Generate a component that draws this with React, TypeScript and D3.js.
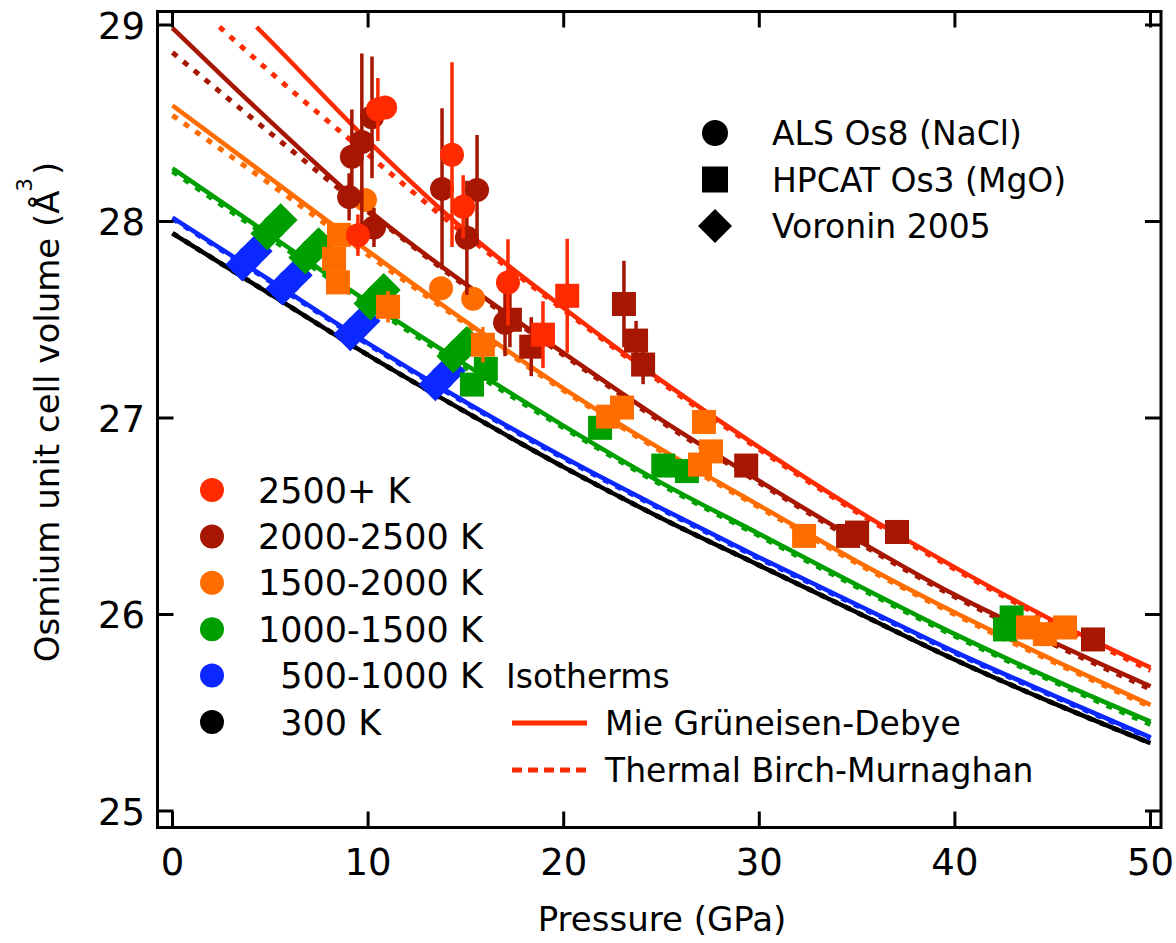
import React from "react";
import * as d3 from "d3";

// ---------- data ----------
const xTicks = [0, 10, 20, 30, 40, 50];
const yTicks = [25, 26, 27, 28, 29];

const pGrid = [0, 5, 10, 15, 20, 25, 30, 35, 40, 45, 50];
// Isotherms, Mie Grüneisen-Debye (solid) and thermal Birch-Murnaghan (dotted)
const mgd300 = [27.94, 27.63, 27.32, 27.03, 26.75, 26.49, 26.25, 26.01, 25.77, 25.55, 25.345];
const tbm300 = [27.94, 27.63, 27.32, 27.03, 26.75, 26.49, 26.25, 26.01, 25.77, 25.55, 25.345];
const mgd750 = [28.02, 27.7, 27.38, 27.08, 26.8, 26.54, 26.29, 26.05, 25.81, 25.59, 25.375];
const tbm750 = [28.015, 27.695, 27.375, 27.075, 26.795, 26.535, 26.285, 26.045, 25.805, 25.585, 25.37];
const mgd1250 = [28.27, 27.93, 27.59, 27.27, 26.96, 26.67, 26.41, 26.15, 25.9, 25.67, 25.455];
const tbm1250 = [28.255, 27.915, 27.578, 27.255, 26.95, 26.66, 26.4, 26.14, 25.89, 25.66, 25.44];
const mgd1750 = [28.59, 28.22, 27.85, 27.49, 27.15, 26.84, 26.555, 26.27, 26.01, 25.77, 25.54];
const tbm1750 = [28.54, 28.19, 27.83, 27.48, 27.14, 26.83, 26.545, 26.26, 26.0, 25.76, 25.53];
const mgd2250 = [28.985, 28.51, 28.06, 27.68, 27.33, 26.99, 26.68, 26.38, 26.1, 25.86, 25.635];
const tbm2250 = [28.86, 28.45, 28.05, 27.67, 27.32, 26.98, 26.67, 26.37, 26.09, 25.85, 25.62];
const pGridMgd2750 = [4.3, 5, 10, 15, 20, 25, 30, 35, 40, 45, 50];
const mgd2750 = [28.99, 28.92, 28.41, 27.95, 27.56, 27.19, 26.85, 26.53, 26.24, 25.97, 25.73];
const pGridTbm2750 = [2.4, 5, 10, 15, 20, 25, 30, 35, 40, 45, 50];
const tbm2750 = [28.99, 28.76, 28.34, 27.93, 27.55, 27.18, 26.84, 26.52, 26.23, 25.96, 25.715];

// Measurements: [pressure GPa, volume Å3, error Å3]
const als2500 = [[9.48, 27.93, 0.105], [10.5, 28.57, 0.16], [10.87, 28.58, 0.05], [14.29, 28.34, 0.47], [14.86, 28.075, 0.16], [17.15, 27.69, 0.22]];
const als2000 = [[9.17, 28.33, 0.24], [9.68, 28.405, 0.45], [10.2, 28.53, 0.31], [9.03, 28.125, 0.12], [10.3, 27.97, 0.1], [13.78, 28.166, 0.41], [15.57, 28.16, 0.28], [15.05, 27.917, 0.29], [17.0, 27.485, 0.17]];
const als1500 = [[9.84, 28.11, 0.05], [13.73, 27.66, 0.04], [15.37, 27.607, 0.04]];
const hpcat2500 = [[20.18, 27.622, 0.29], [18.94, 27.424, 0.17]];
const hpcat2000 = [[17.25, 27.5, 0.14], [18.34, 27.363, 0.15], [23.08, 27.58, 0.22], [23.7, 27.394, 0.1], [24.06, 27.272, 0.1], [29.33, 26.758, 0.05], [34.54, 26.4, 0.04], [35.0, 26.417, 0.04], [37.04, 26.42, 0.04], [47.06, 25.873, 0.04]];
const hpcat1500 = [[8.51, 27.932, 0.05], [8.26, 27.81, 0.05], [8.46, 27.69, 0.05], [11.02, 27.566, 0.08], [15.87, 27.373, 0.09], [22.27, 27.007, 0.04], [22.98, 27.053, 0.04], [27.17, 26.98, 0.04], [27.53, 26.83, 0.04], [26.97, 26.763, 0.04], [32.29, 26.4, 0.03], [43.74, 25.934, 0.03], [44.6, 25.9, 0.03], [45.63, 25.934, 0.03]];
const hpcat1000 = [[16.02, 27.25, 0.03], [15.31, 27.17, 0.03], [21.86, 26.95, 0.03], [25.09, 26.758, 0.03], [26.3, 26.73, 0.03], [42.9, 25.985, 0.03], [42.56, 25.924, 0.03]];
const voronin1000 = [[4.85, 27.939], [5.53, 28.007], [6.79, 27.817], [7.47, 27.885], [10.12, 27.583], [10.8, 27.651], [14.36, 27.314], [15.04, 27.382]];
const voronin500 = [[3.57, 27.781], [4.25, 27.849], [5.62, 27.659], [6.3, 27.727], [9.09, 27.426], [9.77, 27.494], [13.44, 27.171], [14.12, 27.239]];

const tempLabels = ["2500+ K", "2000-2500 K", "1500-2000 K", "1000-1500 K", "  500-1000 K", "  300 K"];
const sourceLabels = ["ALS Os8 (NaCl)", "HPCAT Os3 (MgO)", "Voronin 2005"];
const isothermLabels = ["Mie Grüneisen-Debye", "Thermal Birch-Murnaghan"];

// ---------- styles ----------
const C = {
  red: "#ff2a00",
  darkred: "#a61600",
  orange: "#ff6d00",
  green: "#009f00",
  blue: "#0a28ff",
  black: "#000000",
};
const tempColors = [C.red, C.darkred, C.orange, C.green, C.blue, C.black];
const FONT = "'DejaVu Sans', Verdana, sans-serif";

const W = 1176;
const H = 943;
const frame = { left: 157.5, right: 1161, top: 11.5, bottom: 827.5 };

const x = d3.scaleLinear().domain([0, 50]).range([172.5, 1150.5]);
const y = d3.scaleLinear().domain([25, 29]).range([811, 25]);

const line = d3
  .line<[number, number]>()
  .x((d) => x(d[0]))
  .y((d) => y(d[1]))
  .curve(d3.curveMonotoneX);

const zip = (ps: number[], vs: number[]) => ps.map((p, i) => [p, vs[i]] as [number, number]);

const curves = [
  { ps: pGrid, vs: mgd300, color: C.black, dotted: false },
  { ps: pGrid, vs: tbm300, color: C.black, dotted: true },
  { ps: pGrid, vs: tbm750, color: C.blue, dotted: true },
  { ps: pGrid, vs: mgd750, color: C.blue, dotted: false },
  { ps: pGrid, vs: tbm1250, color: C.green, dotted: true },
  { ps: pGrid, vs: mgd1250, color: C.green, dotted: false },
  { ps: pGrid, vs: tbm1750, color: C.orange, dotted: true },
  { ps: pGrid, vs: mgd1750, color: C.orange, dotted: false },
  { ps: pGrid, vs: tbm2250, color: C.darkred, dotted: true },
  { ps: pGrid, vs: mgd2250, color: C.darkred, dotted: false },
  { ps: pGridTbm2750, vs: tbm2750, color: C.red, dotted: true },
  { ps: pGridMgd2750, vs: mgd2750, color: C.red, dotted: false },
];

type Shape = "circle" | "square" | "diamond";
const markerGroups: { data: number[][]; shape: Shape; color: string }[] = [
  { data: voronin500, shape: "diamond", color: C.blue },
  { data: voronin1000, shape: "diamond", color: C.green },
  { data: hpcat1000, shape: "square", color: C.green },
  { data: als1500, shape: "circle", color: C.orange },
  { data: hpcat1500, shape: "square", color: C.orange },
  { data: hpcat2000, shape: "square", color: C.darkred },
  { data: als2000, shape: "circle", color: C.darkred },
  { data: hpcat2500, shape: "square", color: C.red },
  { data: als2500, shape: "circle", color: C.red },
];

function Marker({ shape, cx, cy, color, size }: { shape: Shape; cx: number; cy: number; color: string; size: number }) {
  if (shape === "circle") return <circle cx={cx} cy={cy} r={size / 2} fill={color} />;
  if (shape === "square")
    return <rect x={cx - size / 2} y={cy - size / 2} width={size} height={size} fill={color} />;
  const h = (size * Math.SQRT2) / 2;
  return <path d={`M${cx},${cy - h}L${cx + h},${cy}L${cx},${cy + h}L${cx - h},${cy}Z`} fill={color} />;
}

export default function App() {
  const tickLen = 16;
  const legendRowsY = d3.range(tempLabels.length).map((i) => 490 + i * 46.4);
  const srcRowsY = [133, 179.5, 226];
  const srcShapes: Shape[] = ["circle", "square", "diamond"];
  return (
    <div style={{ position: "fixed", left: 0, top: 0, width: W, height: H, background: "#fff" }}>
      <svg width={W} height={H} viewBox={`0 0 ${W} ${H}`} style={{ display: "block", fontFamily: FONT }}>
        <rect x={0} y={0} width={W} height={H} fill="#fff" />
        <defs>
          <clipPath id="plotClip">
            <rect x={frame.left} y={frame.top} width={frame.right - frame.left} height={frame.bottom - frame.top} />
          </clipPath>
        </defs>

        {/* curves */}
        <g clipPath="url(#plotClip)">
          {curves.map((c, i) => (
            <path
              key={i}
              d={line(zip(c.ps, c.vs)) || ""}
              fill="none"
              stroke={c.color}
              strokeWidth={c.dotted ? 5 : 4.5}
              strokeDasharray={c.dotted ? "6,8" : undefined}
            />
          ))}
        </g>

        {/* markers with error bars */}
        <g clipPath="url(#plotClip)">
          {markerGroups.map((g, gi) => (
            <g key={gi}>
              {g.data.map((d, i) =>
                d[2] ? (
                  <line
                    key={"e" + i}
                    x1={x(d[0])}
                    x2={x(d[0])}
                    y1={y(d[1] - d[2])}
                    y2={y(d[1] + d[2])}
                    stroke={g.color}
                    strokeWidth={3.5}
                  />
                ) : null
              )}
              {g.data.map((d, i) => (
                <Marker key={"m" + i} shape={g.shape} cx={x(d[0])} cy={y(d[1])} color={g.color} size={24} />
              ))}
            </g>
          ))}
        </g>

        {/* frame */}
        <rect
          x={frame.left}
          y={frame.top}
          width={frame.right - frame.left}
          height={frame.bottom - frame.top}
          fill="none"
          stroke="#000"
          strokeWidth={3}
        />
        {/* ticks */}
        {xTicks.map((t) => (
          <g key={"xt" + t}>
            <line x1={x(t)} x2={x(t)} y1={frame.bottom} y2={frame.bottom - tickLen} stroke="#000" strokeWidth={3} />
            <line x1={x(t)} x2={x(t)} y1={frame.top} y2={frame.top + tickLen} stroke="#000" strokeWidth={3} />
            <text x={x(t)} y={875} textAnchor="middle" fontSize={37} fill="#000">
              {t}
            </text>
          </g>
        ))}
        {yTicks.map((t) => (
          <g key={"yt" + t}>
            <line x1={frame.left} x2={frame.left + tickLen} y1={y(t)} y2={y(t)} stroke="#000" strokeWidth={3} />
            <line x1={frame.right} x2={frame.right - tickLen} y1={y(t)} y2={y(t)} stroke="#000" strokeWidth={3} />
            <text x={145} y={y(t) + 13.5} textAnchor="end" fontSize={37} fill="#000">
              {t}
            </text>
          </g>
        ))}

        {/* axis titles */}
        <text x={662} y={931} textAnchor="middle" fontSize={34} fill="#000">
          Pressure (GPa)
        </text>
        <text transform="translate(59,412) rotate(-90)" textAnchor="middle" fontSize={34} fill="#000">
          Osmium unit cell volume (Å
          <tspan fontSize={21} dy={-27} dx={-1}>
            3
          </tspan>
          <tspan dy={27} dx={3}>
            )
          </tspan>
        </text>

        {/* source legend */}
        {sourceLabels.map((s, i) => (
          <g key={"src" + i}>
            <Marker shape={srcShapes[i]} cx={715} cy={srcRowsY[i]} color="#000" size={i === 2 ? 24 : 26} />
            <text x={772} y={srcRowsY[i] + 12} fontSize={33} fill="#000">
              {s}
            </text>
          </g>
        ))}

        {/* temperature legend */}
        {tempLabels.map((s, i) => (
          <g key={"tl" + i}>
            <circle cx={212} cy={legendRowsY[i]} r={12} fill={tempColors[i]} />
            <text x={258} y={legendRowsY[i] + 12.5} fontSize={35} fill="#000" style={{ whiteSpace: "pre" }}>
              {s}
            </text>
          </g>
        ))}

        {/* isotherm legend */}
        <text x={506} y={legendRowsY[4] + 12} fontSize={33} fill="#000">
          Isotherms
        </text>
        {isothermLabels.map((s, i) => {
          const cy = 723 + i * 47;
          return (
            <g key={"iso" + i}>
              <line
                x1={512}
                x2={587}
                y1={cy}
                y2={cy}
                stroke={C.red}
                strokeWidth={5}
                strokeDasharray={i === 1 ? "10,6" : undefined}
              />
              <text x={605} y={cy + 12} fontSize={33} fill="#000">
                {s}
              </text>
            </g>
          );
        })}
      </svg>
    </div>
  );
}
